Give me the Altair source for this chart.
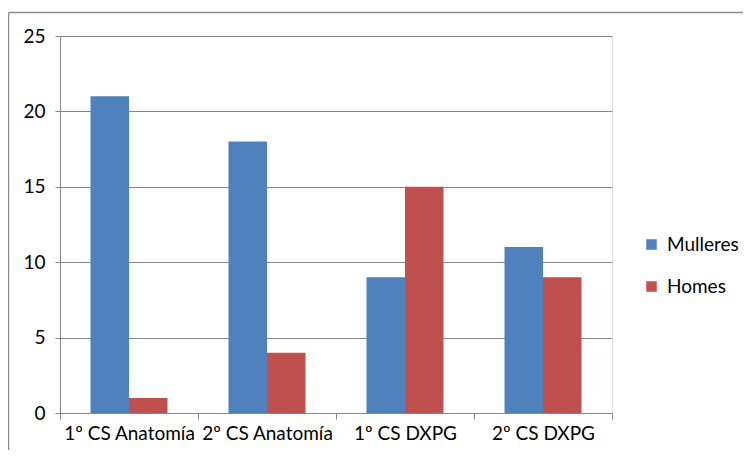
import altair as alt
import pandas as pd

categories = ["1º CS Anatomía", "2º CS Anatomía", "1º CS DXPG", "2º CS DXPG"]
mulleres = [21, 18, 9, 11]
homes = [1, 4, 15, 9]
series = ["Mulleres", "Homes"]
colors = ["#4F81BD", "#C0504D"]

rows = []
for c, m, h in zip(categories, mulleres, homes):
    rows.append({"cat": c, "serie": "Mulleres", "val": m})
    rows.append({"cat": c, "serie": "Homes", "val": h})
df = pd.DataFrame(rows)

FONT = "Lato"
one = pd.DataFrame({"a": [0]})

border_top = alt.Chart(one).mark_rule(color="#8C8C8C", strokeWidth=1.5, clip=False).encode(
    x=alt.value(-51.5), x2=alt.value(700), y=alt.value(-23.5)
)
border_left = alt.Chart(one).mark_rule(color="#8C8C8C", strokeWidth=1.5, clip=False).encode(
    x=alt.value(-51.5), y=alt.value(-23.5), y2=alt.value(500)
)

bars = alt.Chart(df).mark_bar(clip=False).encode(
    x=alt.X("cat:N", sort=categories,
            scale=alt.Scale(paddingInner=0, paddingOuter=0),
            axis=alt.Axis(title=None, labelAngle=0, tickBand="extent",
                          labelFont=FONT, labelFontSize=19, labelColor="#000",
                          domainColor="#868686", tickColor="#868686", tickSize=6,
                          labelPadding=5)),
    xOffset=alt.XOffset("serie:N", sort=series,
                        scale=alt.Scale(paddingInner=0, paddingOuter=0.792)),
    y=alt.Y("val:Q", scale=alt.Scale(domain=[0, 25]),
            axis=alt.Axis(title=None, values=[0, 5, 10, 15, 20, 25],
                          labelFont=FONT, labelFontSize=19, labelColor="#000",
                          domainColor="#868686", tickColor="#868686", tickSize=5,
                          gridColor="#868686", labelPadding=10)),
    color=alt.Color("serie:N", sort=series,
                    scale=alt.Scale(domain=series, range=colors),
                    legend=alt.Legend(title=None, orient="none", legendX=582, legendY=199,
                                      symbolType="square", symbolSize=110,
                                      symbolStrokeWidth=0,
                                      labelFont=FONT, labelFontSize=19, labelColor="#000",
                                      rowPadding=22, labelOffset=6)),
)

chart = alt.layer(border_top, border_left, bars).properties(
    width=552, height=377,
    autosize=alt.AutoSizeParams(type="none"),
    padding={"left": 52, "top": 28, "right": 131, "bottom": 37},
).configure_view(stroke=None).configure(background="white")

chart.save("out.html", embed_options={"renderer": "svg", "actions": False})
